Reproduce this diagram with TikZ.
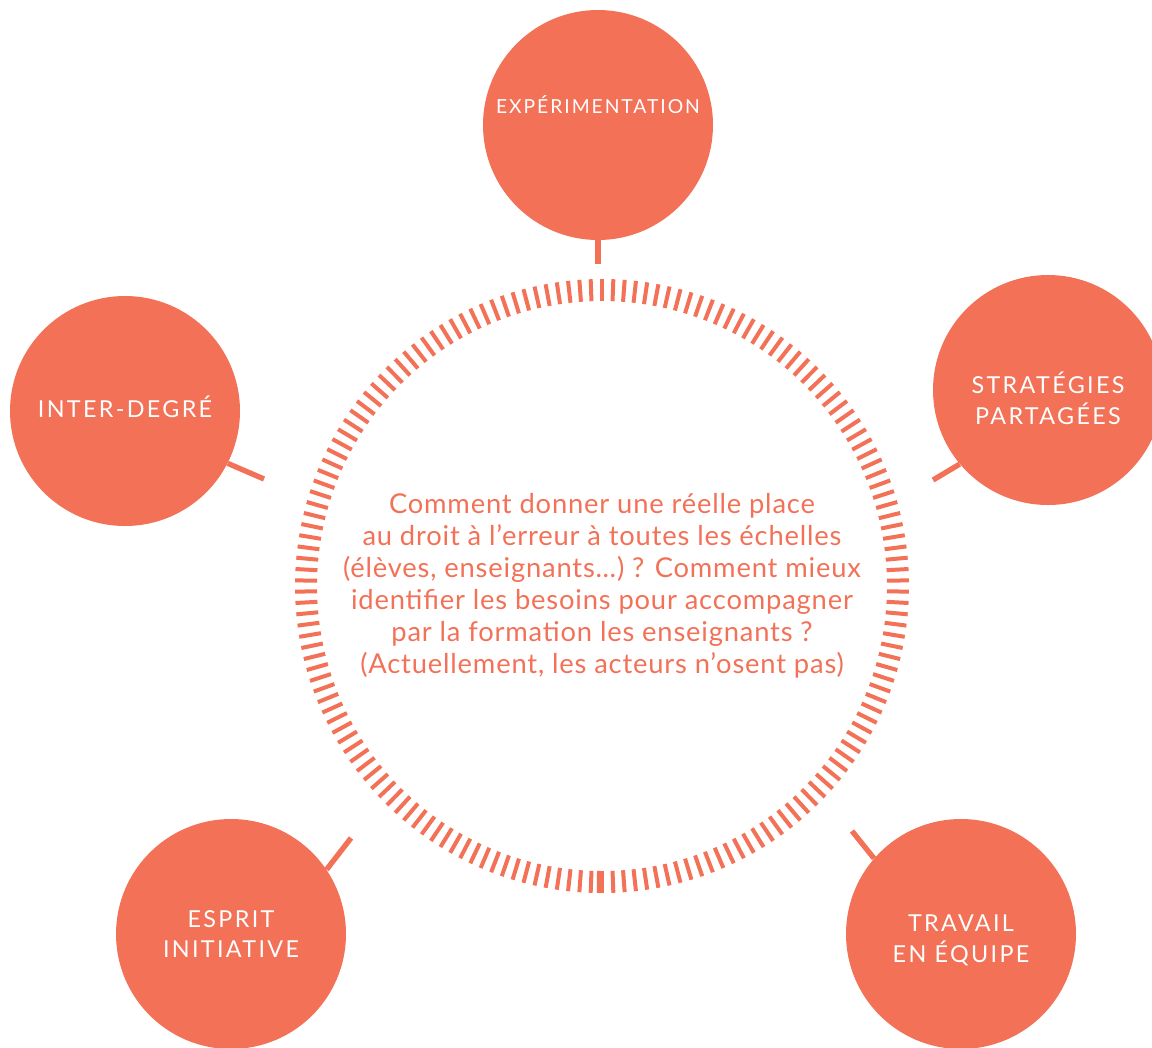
\documentclass[tikz,border=0pt]{standalone}
\usepackage{fontspec}
\setmainfont{Lato}
\newfontfamily\etiquettefont[LetterSpace=10]{Lato}
\newfontfamily\questionfont[LetterSpace=3]{Lato}
\usepackage{xcolor}
\usepackage{tikz}
\usetikzlibrary{
    positioning,
    calc
}
\definecolor{corail}{RGB}{242,113,87}

\begin{document}
\begin{tikzpicture}[
    x=0.75pt,
    y=-0.75pt,
    bulle/.style={
        circle,
        fill=corail,
        minimum size=172.5pt,
        inner sep=0pt
    },
    etiquette/.style={
        text=white,
        align=center,
        inner sep=0pt,
        font=\etiquettefont\fontsize{17.5}{23}\selectfont
    },
    trait/.style={
        draw=corail,
        line width=4pt
    },
    graduation/.style={
        draw=corail,
        line width=3pt
    }
]

\useasboundingbox (0,0) rectangle (1152,1047);

\node[bulle] (expe) at (598,125) {};
\node[bulle] (strat) at (1048,390) {};
\node[bulle] (inter) at (125,411) {};
\node[bulle] (esprit) at (231,934) {};
\node[bulle] (travail) at (961,934) {};

\node[etiquette, font=\etiquettefont\fontsize{14.5}{20}\selectfont] (expe-texte)
    at ([yshift=15pt]expe.center) {EXPÉRIMENTATION};
\node[etiquette] (strat-texte)
    at ([yshift=-6pt]strat.center) {STRATÉGIES\\PARTAGÉES};
\node[etiquette] (inter-texte)
    at ([yshift=3pt]inter.center) {INTER-DEGRÉ};
\node[etiquette] (esprit-texte)
    at (esprit.center) {ESPRIT\\INITIATIVE};
\node[etiquette] (travail-texte)
    at ([yshift=-5pt]travail.center) {TRAVAIL\\EN ÉQUIPE};

\coordinate (centre) at (602,586);
\foreach \a [evaluate=\a as \ang using 90+\a*2.117647] in {0,...,169}
    \draw[graduation] ($(centre)+(\ang:285)$) -- ($(centre)+(\ang:307)$);
\draw[graduation] ($(centre)+(90.6:285)$) -- ($(centre)+(90.6:307)$);

\node[text=corail, align=center, font=\questionfont\fontsize{20.5}{24}\selectfont] (question) at (centre)
    {Comment donner une réelle place\\
     au droit à l’erreur à toutes les échelles\\
     (élèves, enseignants…) ? Comment mieux\\
     identifier les besoins pour accompagner\\
     par la formation les enseignants ?\\
     (Actuellement, les acteurs n’osent pas)};

\coordinate (expe-bout) at (598,264);
\coordinate (strat-bout) at (933,480);
\coordinate (inter-bout) at (264,479);
\coordinate (esprit-bout) at (351,838);
\coordinate (travail-bout) at (852,831);

\draw[trait] (expe.-90) -- (expe-bout);
\draw[trait] (strat.220) -- (strat-bout);
\draw[trait] (inter.-27) -- (inter-bout);
\draw[trait] (esprit.34) -- (esprit-bout);
\draw[trait] (travail.139) -- (travail-bout);

\end{tikzpicture}
\end{document}
